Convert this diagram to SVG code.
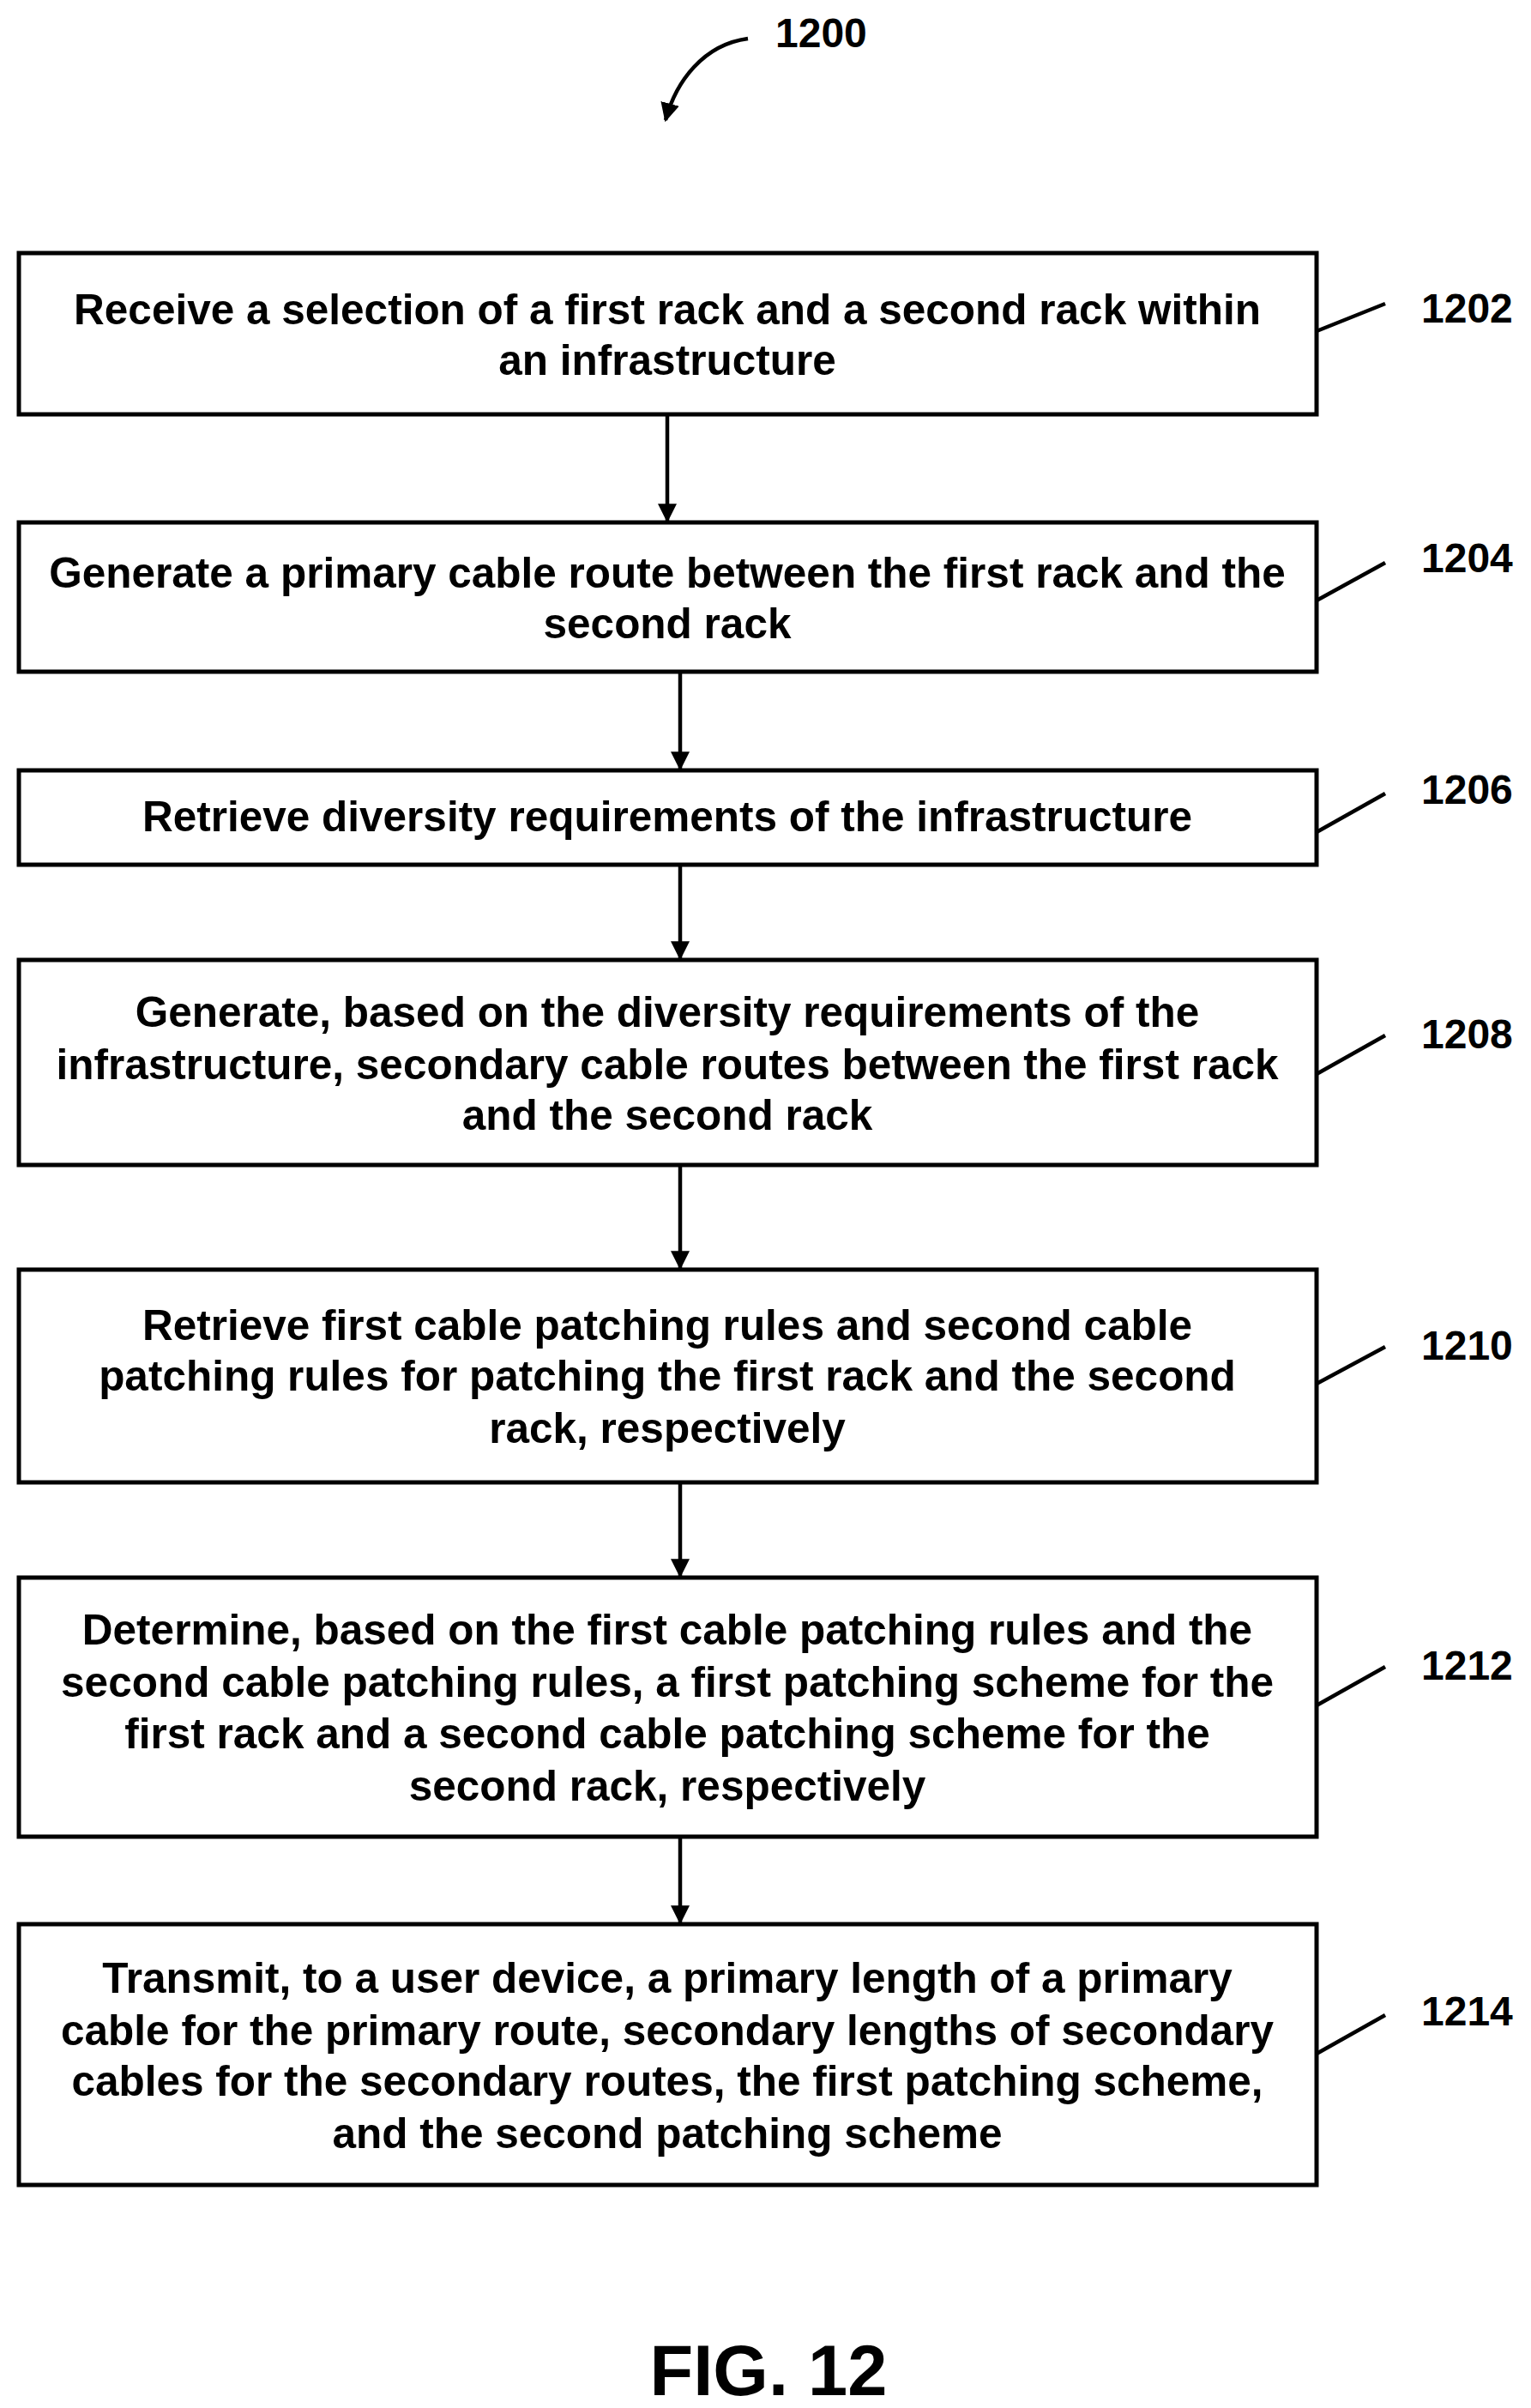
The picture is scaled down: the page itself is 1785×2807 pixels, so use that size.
<svg xmlns="http://www.w3.org/2000/svg" width="1785" height="2807" viewBox="0 0 1785 2807">
<style>
.b{fill:#fff;stroke:#000;stroke-width:5}
.t{font-family:"Liberation Sans",Arial,sans-serif;font-weight:bold;font-size:49.5px;text-anchor:middle}
.l{font-family:"Liberation Sans",Arial,sans-serif;font-weight:bold;font-size:48px}
.c{stroke:#000;stroke-width:4.5;fill:none}
</style>
<defs>
<marker id="h" viewBox="0 0 10 10" refX="9" refY="5" markerWidth="22" markerHeight="22" orient="auto" markerUnits="userSpaceOnUse"><path d="M0,0L10,5L0,10z"/></marker></defs>
<g id="title"><text class="l" x="904" y="55">1200</text>
<path class="c" d="M872,45 C820,52 788,95 776,140" marker-end="url(#h)"/></g>
<g id="connectors">
<line class="c" x1="778" y1="483" x2="778" y2="607" marker-end="url(#h)"/>
<line class="c" x1="793" y1="783" x2="793" y2="896" marker-end="url(#h)"/>
<line class="c" x1="793" y1="1008" x2="793" y2="1117" marker-end="url(#h)"/>
<line class="c" x1="793" y1="1358" x2="793" y2="1478" marker-end="url(#h)"/>
<line class="c" x1="793" y1="1728" x2="793" y2="1837" marker-end="url(#h)"/>
<line class="c" x1="793" y1="2141" x2="793" y2="2241" marker-end="url(#h)"/>
<line class="c" x1="1535" y1="386" x2="1615" y2="354"/>
<line class="c" x1="1535" y1="700" x2="1615" y2="656"/>
<line class="c" x1="1535" y1="970" x2="1615" y2="925"/>
<line class="c" x1="1535" y1="1252" x2="1615" y2="1207"/>
<line class="c" x1="1535" y1="1613" x2="1615" y2="1570"/>
<line class="c" x1="1535" y1="1988" x2="1615" y2="1943"/>
<line class="c" x1="1535" y1="2394" x2="1615" y2="2349"/>
</g>
<g id="n1202"><rect class="b" x="22" y="295" width="1513" height="188"/>
<text class="t" x="778" y="378">Receive a selection of a first rack and a second rack within</text>
<text class="t" x="778" y="437">an infrastructure</text><text class="l" x="1657" y="376">1202</text></g>
<g id="n1204"><rect class="b" x="22" y="609" width="1513" height="174"/>
<text class="t" x="778" y="685">Generate a primary cable route between the first rack and the</text>
<text class="t" x="778" y="744">second rack</text><text class="l" x="1657" y="667">1204</text></g>
<g id="n1206"><rect class="b" x="22" y="898" width="1513" height="110"/>
<text class="t" x="778" y="969">Retrieve diversity requirements of the infrastructure</text><text class="l" x="1657" y="937">1206</text></g>
<g id="n1208"><rect class="b" x="22" y="1119" width="1513" height="239"/>
<text class="t" x="778" y="1197">Generate, based on the diversity requirements of the</text>
<text class="t" x="778" y="1258">infrastructure, secondary cable routes between the first rack</text>
<text class="t" x="778" y="1317">and the second rack</text><text class="l" x="1657" y="1222">1208</text></g>
<g id="n1210"><rect class="b" x="22" y="1480" width="1513" height="248"/>
<text class="t" x="778" y="1562">Retrieve first cable patching rules and second cable</text>
<text class="t" x="778" y="1621">patching rules for patching the first rack and the second</text>
<text class="t" x="778" y="1682">rack, respectively</text><text class="l" x="1657" y="1585">1210</text></g>
<g id="n1212"><rect class="b" x="22" y="1839" width="1513" height="302"/>
<text class="t" x="778" y="1917">Determine, based on the first cable patching rules and the</text>
<text class="t" x="778" y="1978">second cable patching rules, a first patching scheme for the</text>
<text class="t" x="778" y="2038">first rack and a second cable patching scheme for the</text>
<text class="t" x="778" y="2099">second rack, respectively</text><text class="l" x="1657" y="1958">1212</text></g>
<g id="n1214"><rect class="b" x="22" y="2243" width="1513" height="304"/>
<text class="t" x="778" y="2323">Transmit, to a user device, a primary length of a primary</text>
<text class="t" x="778" y="2384">cable for the primary route, secondary lengths of secondary</text>
<text class="t" x="778" y="2443">cables for the secondary routes, the first patching scheme,</text>
<text class="t" x="778" y="2504">and the second patching scheme</text><text class="l" x="1657" y="2361">1214</text></g>
<text x="896" y="2792" font-family="Liberation Sans,Arial,sans-serif" font-weight="bold" font-size="83" text-anchor="middle">FIG. 12</text>
</svg>
